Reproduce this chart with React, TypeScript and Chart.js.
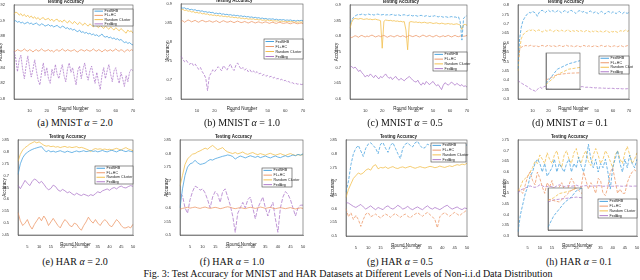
import React, { useEffect, useRef } from "react";
import { Chart, registerables } from "chart.js";
Chart.register(...registerables);

const FONT = "'Liberation Sans', Arial, sans-serif";
const BLUE = "#4aa3df";
const ORANGE = "#ee9a6c";
const YELLOW = "#f3c04f";
const PURPLE = "#b07ccb";
const NAMES = ["FedSHB", "FL+HC", "Random Cluster", "FedAvg"];

const MNIST_ROUNDS = Array.from({ length: 70 }, (_, i) => i + 1);
const HAR_ROUNDS = Array.from({ length: 50 }, (_, i) => i + 1);
const MNIST_X_TICKS = [10, 20, 30, 40, 50, 60, 70];
const HAR_X_TICKS = [5, 10, 15, 20, 25, 30, 35, 40, 45, 50];

// (a) MNIST alpha = 2.0
const A_Y_TICKS = [0.8, 0.82, 0.84, 0.86, 0.88, 0.9, 0.92];
const A_BLUE = [0.899,0.900,0.898,0.899,0.897,0.898,0.896,0.897,0.898,0.896,0.897,0.895,0.896,0.897,0.895,0.894,0.896,0.895,0.893,0.894,0.895,0.893,0.894,0.892,0.893,0.894,0.892,0.891,0.893,0.892,0.890,0.891,0.889,0.890,0.888,0.889,0.887,0.886,0.888,0.885,0.886,0.884,0.885,0.883,0.884,0.882,0.883,0.881,0.882,0.880,0.881,0.883,0.880,0.879,0.880,0.878,0.879,0.877,0.878,0.876,0.877,0.875,0.876,0.874,0.872,0.873,0.871,0.872,0.870,0.869];
const A_ORANGE = [0.862,0.861,0.863,0.862,0.861,0.862,0.864,0.862,0.861,0.863,0.862,0.860,0.862,0.863,0.861,0.862,0.864,0.862,0.861,0.862,0.863,0.861,0.862,0.860,0.862,0.863,0.861,0.862,0.864,0.862,0.861,0.863,0.862,0.861,0.862,0.863,0.861,0.860,0.862,0.863,0.862,0.861,0.863,0.862,0.861,0.862,0.864,0.862,0.861,0.863,0.862,0.860,0.862,0.863,0.861,0.862,0.863,0.861,0.862,0.864,0.862,0.861,0.863,0.862,0.860,0.862,0.863,0.861,0.863,0.862];
const A_YELLOW = [0.908,0.911,0.910,0.907,0.909,0.906,0.908,0.905,0.907,0.904,0.906,0.903,0.905,0.902,0.904,0.901,0.903,0.904,0.901,0.902,0.903,0.900,0.902,0.899,0.901,0.902,0.899,0.900,0.898,0.901,0.899,0.897,0.900,0.898,0.896,0.899,0.897,0.895,0.898,0.896,0.894,0.897,0.895,0.893,0.896,0.894,0.892,0.895,0.893,0.891,0.894,0.892,0.890,0.893,0.891,0.889,0.892,0.890,0.888,0.891,0.889,0.887,0.890,0.888,0.886,0.884,0.888,0.886,0.887,0.884];
const A_PURPLE = [0.861,0.852,0.835,0.850,0.856,0.838,0.826,0.842,0.855,0.840,0.828,0.838,0.850,0.836,0.824,0.818,0.834,0.846,0.830,0.840,0.826,0.820,0.838,0.830,0.844,0.832,0.826,0.836,0.844,0.830,0.822,0.838,0.846,0.834,0.840,0.828,0.818,0.836,0.842,0.826,0.838,0.846,0.832,0.824,0.836,0.842,0.830,0.820,0.834,0.822,0.812,0.830,0.840,0.826,0.836,0.844,0.832,0.822,0.836,0.840,0.828,0.820,0.834,0.826,0.816,0.830,0.822,0.834,0.838,0.836];

// (b) MNIST alpha = 1.0
const B_Y_TICKS = [0.65, 0.7, 0.75, 0.8, 0.85, 0.9];
const B_BLUE = [0.891,0.889,0.890,0.887,0.888,0.885,0.886,0.884,0.885,0.882,0.883,0.881,0.882,0.879,0.880,0.878,0.879,0.877,0.878,0.875,0.876,0.874,0.876,0.873,0.874,0.872,0.873,0.871,0.872,0.870,0.871,0.869,0.870,0.868,0.869,0.867,0.868,0.866,0.867,0.865,0.866,0.864,0.865,0.863,0.864,0.862,0.863,0.861,0.862,0.860,0.861,0.860,0.861,0.859,0.860,0.858,0.859,0.858,0.859,0.857,0.858,0.857,0.858,0.856,0.857,0.855,0.857,0.856,0.857,0.856];
const B_ORANGE = [0.854,0.856,0.852,0.855,0.858,0.856,0.853,0.855,0.857,0.854,0.852,0.855,0.857,0.855,0.853,0.854,0.856,0.854,0.852,0.854,0.856,0.853,0.851,0.854,0.856,0.854,0.852,0.853,0.855,0.853,0.851,0.853,0.855,0.853,0.851,0.852,0.854,0.852,0.850,0.852,0.854,0.852,0.850,0.852,0.853,0.851,0.850,0.852,0.853,0.851,0.849,0.851,0.852,0.850,0.849,0.851,0.852,0.850,0.849,0.850,0.851,0.849,0.848,0.850,0.851,0.849,0.848,0.849,0.850,0.848];
const B_YELLOW = [0.884,0.886,0.883,0.884,0.881,0.882,0.879,0.880,0.877,0.878,0.876,0.877,0.874,0.875,0.873,0.874,0.871,0.872,0.870,0.871,0.869,0.870,0.868,0.869,0.867,0.868,0.866,0.867,0.865,0.866,0.864,0.865,0.863,0.864,0.862,0.863,0.861,0.862,0.860,0.861,0.860,0.861,0.859,0.860,0.858,0.859,0.857,0.858,0.857,0.858,0.856,0.857,0.855,0.856,0.855,0.856,0.854,0.855,0.854,0.855,0.853,0.854,0.853,0.854,0.852,0.853,0.852,0.853,0.852,0.853];
const B_PURPLE = [0.763,0.755,0.748,0.752,0.745,0.741,0.746,0.738,0.742,0.735,0.728,0.733,0.722,0.715,0.705,0.672,0.710,0.718,0.727,0.722,0.728,0.735,0.730,0.724,0.738,0.732,0.726,0.735,0.742,0.730,0.725,0.738,0.745,0.736,0.728,0.733,0.726,0.730,0.722,0.727,0.720,0.724,0.718,0.722,0.716,0.718,0.712,0.715,0.710,0.712,0.708,0.710,0.705,0.707,0.703,0.704,0.700,0.702,0.698,0.699,0.695,0.696,0.692,0.693,0.690,0.691,0.689,0.690,0.688,0.689];

// (c) MNIST alpha = 0.5
const C_Y_TICKS = [0.6, 0.65, 0.7, 0.75, 0.8, 0.85, 0.9];
const C_BLUE = [0.842,0.852,0.860,0.865,0.868,0.870,0.869,0.871,0.870,0.868,0.870,0.871,0.869,0.870,0.868,0.869,0.871,0.870,0.868,0.869,0.870,0.868,0.869,0.867,0.869,0.870,0.868,0.867,0.869,0.868,0.866,0.868,0.869,0.867,0.866,0.868,0.867,0.865,0.867,0.866,0.864,0.866,0.867,0.865,0.864,0.866,0.865,0.863,0.865,0.864,0.866,0.864,0.862,0.864,0.863,0.861,0.863,0.862,0.860,0.862,0.863,0.861,0.862,0.860,0.862,0.846,0.788,0.858,0.863,0.866];
const C_ORANGE = [0.800,0.796,0.799,0.802,0.800,0.797,0.801,0.803,0.800,0.798,0.801,0.799,0.802,0.804,0.801,0.798,0.800,0.802,0.799,0.801,0.803,0.800,0.797,0.800,0.802,0.800,0.798,0.801,0.803,0.800,0.799,0.802,0.800,0.797,0.800,0.803,0.801,0.799,0.801,0.803,0.800,0.798,0.801,0.804,0.802,0.799,0.801,0.803,0.800,0.798,0.801,0.803,0.800,0.798,0.800,0.802,0.799,0.801,0.803,0.800,0.798,0.801,0.803,0.800,0.799,0.801,0.802,0.800,0.801,0.803];
const C_YELLOW = [0.826,0.845,0.855,0.857,0.856,0.855,0.857,0.856,0.854,0.855,0.856,0.854,0.855,0.853,0.854,0.855,0.853,0.852,0.850,0.762,0.848,0.852,0.851,0.850,0.851,0.849,0.850,0.848,0.849,0.847,0.848,0.846,0.847,0.820,0.757,0.845,0.847,0.846,0.845,0.846,0.844,0.845,0.843,0.844,0.845,0.843,0.842,0.844,0.843,0.841,0.842,0.843,0.841,0.840,0.842,0.841,0.839,0.840,0.841,0.839,0.840,0.838,0.839,0.840,0.838,0.836,0.822,0.837,0.838,0.835];
const C_PURPLE = [0.700,0.704,0.698,0.702,0.696,0.688,0.692,0.684,0.678,0.670,0.676,0.672,0.680,0.674,0.668,0.676,0.670,0.664,0.672,0.668,0.674,0.680,0.672,0.666,0.670,0.662,0.668,0.672,0.664,0.660,0.666,0.662,0.658,0.664,0.668,0.672,0.666,0.660,0.656,0.654,0.660,0.650,0.644,0.652,0.646,0.656,0.650,0.646,0.652,0.656,0.648,0.642,0.646,0.638,0.630,0.644,0.652,0.648,0.644,0.650,0.654,0.648,0.644,0.650,0.646,0.642,0.646,0.640,0.642,0.638];

// (d) MNIST alpha = 0.1
const D_Y_TICKS = [0.3, 0.35, 0.4, 0.45, 0.5, 0.55, 0.6, 0.65, 0.7, 0.75, 0.8];
const D_BLUE = [0.460,0.620,0.680,0.715,0.730,0.745,0.752,0.760,0.758,0.765,0.762,0.755,0.740,0.758,0.768,0.772,0.766,0.760,0.768,0.772,0.764,0.770,0.768,0.760,0.766,0.771,0.765,0.758,0.764,0.770,0.766,0.760,0.768,0.772,0.766,0.762,0.755,0.764,0.770,0.768,0.762,0.766,0.760,0.756,0.764,0.768,0.762,0.758,0.764,0.760,0.754,0.762,0.766,0.758,0.752,0.760,0.766,0.762,0.756,0.764,0.760,0.754,0.762,0.766,0.758,0.754,0.762,0.758,0.756,0.760];
const D_ORANGE = [0.500,0.560,0.575,0.580,0.582,0.585,0.580,0.583,0.586,0.582,0.580,0.584,0.581,0.578,0.582,0.585,0.582,0.579,0.583,0.586,0.582,0.580,0.584,0.581,0.578,0.582,0.585,0.581,0.579,0.583,0.586,0.582,0.580,0.583,0.580,0.577,0.581,0.584,0.580,0.578,0.582,0.585,0.581,0.579,0.583,0.580,0.578,0.582,0.584,0.580,0.578,0.582,0.585,0.581,0.579,0.582,0.584,0.580,0.577,0.581,0.583,0.580,0.578,0.582,0.584,0.580,0.577,0.581,0.584,0.582];
const D_YELLOW = [0.450,0.560,0.620,0.640,0.650,0.658,0.662,0.668,0.664,0.670,0.666,0.660,0.664,0.668,0.662,0.656,0.662,0.666,0.660,0.664,0.668,0.662,0.658,0.664,0.668,0.662,0.660,0.666,0.662,0.658,0.664,0.668,0.662,0.658,0.664,0.660,0.666,0.662,0.658,0.664,0.660,0.656,0.662,0.666,0.660,0.656,0.662,0.658,0.664,0.660,0.656,0.662,0.658,0.654,0.660,0.664,0.658,0.654,0.660,0.656,0.662,0.658,0.654,0.660,0.664,0.658,0.662,0.668,0.660,0.664];
const D_PURPLE = [0.400,0.390,0.385,0.380,0.375,0.370,0.365,0.358,0.352,0.348,0.345,0.340,0.350,0.360,0.362,0.355,0.365,0.368,0.362,0.366,0.370,0.368,0.372,0.370,0.366,0.372,0.374,0.370,0.368,0.372,0.370,0.367,0.370,0.372,0.369,0.366,0.368,0.370,0.367,0.365,0.366,0.364,0.362,0.363,0.361,0.362,0.360,0.361,0.359,0.360,0.358,0.359,0.357,0.358,0.357,0.358,0.356,0.357,0.356,0.357,0.355,0.356,0.355,0.356,0.355,0.354,0.355,0.354,0.355,0.354];
const D_INSET_X = [1, 2, 3, 4];
const D_INSET_Y_TICKS = [0.4, 0.5, 0.6, 0.7, 0.8];

// (e) HAR alpha = 2.0
const E_Y_TICKS = [0.45, 0.5, 0.55, 0.6, 0.65, 0.7, 0.75, 0.8, 0.85];
const E_BLUE = [0.705,0.750,0.775,0.790,0.798,0.805,0.810,0.814,0.817,0.820,0.822,0.810,0.800,0.806,0.800,0.803,0.799,0.802,0.805,0.801,0.798,0.803,0.800,0.797,0.801,0.804,0.800,0.802,0.805,0.801,0.803,0.806,0.802,0.804,0.800,0.803,0.806,0.802,0.800,0.804,0.807,0.803,0.800,0.805,0.808,0.804,0.801,0.805,0.802,0.800];
const E_ORANGE = [0.545,0.510,0.490,0.500,0.515,0.490,0.475,0.495,0.510,0.525,0.510,0.530,0.515,0.490,0.505,0.520,0.505,0.490,0.480,0.500,0.515,0.505,0.490,0.485,0.500,0.495,0.480,0.470,0.490,0.505,0.525,0.510,0.500,0.515,0.500,0.490,0.505,0.515,0.505,0.490,0.485,0.500,0.515,0.505,0.490,0.480,0.480,0.485,0.480,0.495];
const E_YELLOW = [0.760,0.790,0.808,0.818,0.825,0.833,0.838,0.843,0.838,0.842,0.835,0.828,0.824,0.826,0.822,0.824,0.820,0.822,0.818,0.821,0.823,0.819,0.821,0.818,0.820,0.822,0.817,0.819,0.816,0.812,0.808,0.801,0.810,0.814,0.811,0.813,0.810,0.812,0.809,0.811,0.808,0.812,0.815,0.811,0.808,0.814,0.818,0.812,0.809,0.805];
const E_PURPLE = [0.660,0.645,0.662,0.680,0.668,0.658,0.675,0.686,0.680,0.668,0.676,0.664,0.650,0.640,0.646,0.660,0.654,0.640,0.634,0.642,0.636,0.628,0.632,0.624,0.618,0.626,0.620,0.616,0.622,0.618,0.614,0.620,0.616,0.624,0.632,0.628,0.636,0.640,0.644,0.638,0.646,0.650,0.644,0.652,0.656,0.650,0.648,0.654,0.658,0.655];

// (f) HAR alpha = 1.0
const F_Y_TICKS = [0.5, 0.55, 0.6, 0.65, 0.7, 0.75, 0.8, 0.85];
const F_BLUE = [0.600,0.670,0.720,0.750,0.762,0.766,0.775,0.766,0.760,0.762,0.765,0.772,0.778,0.776,0.781,0.784,0.787,0.790,0.792,0.795,0.793,0.789,0.780,0.786,0.791,0.788,0.784,0.788,0.792,0.789,0.786,0.790,0.785,0.788,0.791,0.787,0.784,0.788,0.791,0.787,0.785,0.789,0.792,0.788,0.791,0.795,0.792,0.797,0.794,0.799];
const F_ORANGE = [0.595,0.598,0.600,0.602,0.599,0.601,0.603,0.600,0.598,0.601,0.603,0.600,0.598,0.600,0.602,0.600,0.597,0.599,0.602,0.604,0.602,0.599,0.597,0.599,0.601,0.599,0.597,0.600,0.602,0.600,0.598,0.600,0.603,0.601,0.598,0.600,0.602,0.599,0.597,0.599,0.601,0.599,0.597,0.599,0.601,0.598,0.596,0.598,0.600,0.598];
const F_YELLOW = [0.680,0.720,0.760,0.780,0.790,0.798,0.800,0.806,0.810,0.815,0.820,0.816,0.824,0.830,0.822,0.814,0.818,0.822,0.812,0.806,0.803,0.800,0.804,0.799,0.802,0.806,0.800,0.797,0.801,0.804,0.799,0.796,0.800,0.797,0.794,0.798,0.801,0.797,0.794,0.797,0.800,0.796,0.793,0.797,0.800,0.796,0.793,0.796,0.794,0.796];
const F_PURPLE = [0.652,0.645,0.600,0.580,0.630,0.660,0.680,0.675,0.665,0.670,0.655,0.630,0.600,0.640,0.660,0.650,0.620,0.660,0.670,0.640,0.610,0.570,0.510,0.580,0.600,0.620,0.600,0.630,0.640,0.600,0.560,0.600,0.620,0.640,0.600,0.570,0.600,0.620,0.560,0.510,0.600,0.640,0.660,0.650,0.630,0.600,0.570,0.600,0.610,0.610];

// (g) HAR alpha = 0.5
const G_Y_TICKS = [0.5, 0.55, 0.6, 0.65, 0.7, 0.75, 0.8, 0.85];
const G_BLUE = [0.660,0.700,0.760,0.800,0.820,0.830,0.810,0.790,0.820,0.835,0.840,0.830,0.820,0.800,0.835,0.840,0.820,0.805,0.830,0.840,0.820,0.800,0.782,0.820,0.835,0.840,0.830,0.825,0.840,0.845,0.830,0.820,0.822,0.835,0.830,0.825,0.832,0.828,0.822,0.830,0.834,0.828,0.822,0.830,0.834,0.828,0.832,0.836,0.830,0.832];
const G_ORANGE = [0.600,0.570,0.585,0.560,0.575,0.560,0.535,0.560,0.580,0.585,0.570,0.575,0.580,0.572,0.566,0.574,0.580,0.575,0.568,0.576,0.582,0.574,0.568,0.575,0.580,0.572,0.566,0.574,0.580,0.585,0.578,0.572,0.580,0.586,0.578,0.570,0.560,0.530,0.570,0.580,0.585,0.578,0.572,0.580,0.586,0.580,0.574,0.582,0.588,0.595];
const G_YELLOW = [0.640,0.670,0.690,0.710,0.720,0.730,0.725,0.730,0.740,0.745,0.740,0.755,0.760,0.745,0.750,0.748,0.752,0.746,0.750,0.753,0.748,0.746,0.750,0.752,0.748,0.751,0.754,0.750,0.747,0.750,0.753,0.750,0.748,0.751,0.754,0.752,0.749,0.751,0.755,0.752,0.750,0.753,0.756,0.753,0.757,0.760,0.758,0.762,0.760,0.765];
const G_PURPLE = [0.622,0.620,0.614,0.608,0.604,0.610,0.615,0.606,0.598,0.604,0.610,0.602,0.596,0.604,0.600,0.596,0.606,0.610,0.602,0.598,0.604,0.612,0.606,0.598,0.602,0.608,0.600,0.596,0.602,0.606,0.600,0.596,0.604,0.610,0.602,0.598,0.604,0.600,0.596,0.602,0.608,0.612,0.604,0.598,0.602,0.606,0.600,0.596,0.602,0.600];

// (h) HAR alpha = 0.1
const H_Y_TICKS = [0.3, 0.35, 0.4, 0.45, 0.5, 0.55, 0.6, 0.65, 0.7, 0.75];
const H_BLUE = [0.320,0.400,0.450,0.500,0.530,0.580,0.600,0.640,0.660,0.640,0.600,0.640,0.580,0.600,0.620,0.660,0.600,0.640,0.620,0.600,0.640,0.660,0.600,0.640,0.620,0.670,0.630,0.600,0.650,0.730,0.660,0.620,0.660,0.600,0.640,0.620,0.660,0.600,0.520,0.620,0.660,0.700,0.640,0.600,0.660,0.620,0.680,0.640,0.620,0.660];
const H_ORANGE = [0.520,0.510,0.500,0.540,0.580,0.600,0.560,0.540,0.600,0.570,0.530,0.500,0.550,0.530,0.560,0.510,0.500,0.530,0.550,0.520,0.500,0.540,0.570,0.550,0.500,0.480,0.530,0.600,0.560,0.520,0.550,0.530,0.500,0.570,0.560,0.500,0.490,0.530,0.600,0.620,0.560,0.500,0.520,0.500,0.500,0.550,0.580,0.600,0.610,0.600];
const H_YELLOW = [0.510,0.530,0.560,0.570,0.580,0.600,0.620,0.650,0.640,0.680,0.660,0.640,0.690,0.660,0.640,0.680,0.700,0.650,0.620,0.680,0.700,0.660,0.640,0.690,0.710,0.660,0.640,0.680,0.700,0.650,0.630,0.680,0.710,0.680,0.640,0.660,0.700,0.680,0.650,0.620,0.680,0.700,0.660,0.640,0.690,0.720,0.680,0.640,0.660,0.690];
const H_PURPLE = [0.500,0.515,0.520,0.525,0.530,0.535,0.530,0.528,0.532,0.540,0.535,0.530,0.532,0.534,0.530,0.528,0.535,0.540,0.536,0.532,0.534,0.536,0.533,0.535,0.538,0.534,0.532,0.535,0.536,0.534,0.533,0.535,0.534,0.536,0.535,0.533,0.534,0.535,0.534,0.533,0.534,0.535,0.534,0.533,0.534,0.535,0.534,0.533,0.534,0.534];
const H_INSET_X = [1, 2, 3, 4, 5, 6, 7];
const H_INSET_X_TICKS = [2, 4, 6];
const H_INSET_Y_TICKS = [0.3, 0.4, 0.5, 0.6];

type Series = { label: string; data: number[]; color: string; dash?: number[] };

const boxPlugin = {
  id: "box",
  beforeDraw(chart: any, _a: any, opts: any) {
    if (!opts || !opts.fill) return;
    const { ctx, chartArea: a } = chart;
    ctx.save();
    ctx.fillStyle = "#fff";
    ctx.fillRect(a.left, a.top, a.right - a.left, a.bottom - a.top);
    ctx.restore();
  },
  afterDatasetsDraw(chart: any) {
    const { ctx, chartArea: a } = chart;
    ctx.save();
    ctx.strokeStyle = "#555";
    ctx.lineWidth = 0.6;
    ctx.strokeRect(a.left, a.top, a.right - a.left, a.bottom - a.top);
    ctx.restore();
  },
};

const miniLegend = {
  id: "miniLegend",
  afterDraw(chart: any, _a: any, opts: any) {
    if (!opts || !opts.rect) return;
    const [x, y, w, h] = opts.rect;
    const ctx = chart.ctx;
    ctx.save();
    ctx.fillStyle = "#fff";
    ctx.fillRect(x, y, w, h);
    ctx.strokeStyle = "#444";
    ctx.lineWidth = 0.6;
    ctx.strokeRect(x, y, w, h);
    const ds = chart.data.datasets;
    const rh = h / ds.length;
    ctx.font = `3.6px ${FONT}`;
    ctx.textBaseline = "middle";
    ds.forEach((d: any, i: number) => {
      const cy = y + rh * (i + 0.5);
      ctx.strokeStyle = d.borderColor;
      ctx.lineWidth = 1;
      ctx.setLineDash([]);
      ctx.beginPath();
      ctx.moveTo(x + 1.5, cy);
      ctx.lineTo(x + 10, cy);
      ctx.stroke();
      ctx.fillStyle = "#222";
      ctx.fillText(d.label, x + 11.5, cy);
    });
    ctx.restore();
  },
};

type PanelProps = {
  plot: [number, number, number, number];
  labels: number[];
  xTicks: number[];
  yTicks: number[];
  series: Series[];
  legend?: [number, number, number, number];
  small?: boolean;
};

function Panel({ plot, labels, xTicks, yTicks, series, legend, small }: PanelProps) {
  const ref = useRef<HTMLCanvasElement>(null);
  const padL = small ? 9 : 16;
  const padT = small ? 2 : 6;
  const padR = small ? 2 : 4;
  const padB = small ? 5 : 14;
  const [L, T, R, B] = plot;
  const left = L - padL;
  const top = T - padT;
  const width = R - L + padL + padR;
  const height = B - T + padT + padB;
  useEffect(() => {
    const tickFont = { family: FONT, size: small ? 3 : 4 };
    const chart = new Chart(ref.current as HTMLCanvasElement, {
      type: "line",
      data: {
        labels,
        datasets: series.map((s) => ({
          label: s.label,
          data: s.data,
          borderColor: s.color,
          backgroundColor: s.color,
          borderWidth: 0.8,
          borderDash: s.dash || [],
          pointRadius: 0,
          tension: 0,
          fill: false,
        })),
      },
      options: {
        responsive: false,
        animation: false,
        events: [],
        layout: { autoPadding: false, padding: { left: 0, right: padR, top: small ? padT : 0, bottom: 0 } },
        plugins: {
          legend: { display: false },
          tooltip: { enabled: false },
          title: small
            ? { display: false }
            : {
                display: true,
                text: "Testing Accuracy",
                font: { family: FONT, size: 4.5, weight: "bold", lineHeight: 1.2 },
                color: "#222",
                padding: { top: 0, bottom: 0.6 },
              },
          box: { fill: !!small },
          miniLegend: legend ? { rect: [legend[0] - left, legend[1] - top, legend[2] - legend[0], legend[3] - legend[1]] } : {},
        } as any,
        scales: {
          x: {
            type: "category",
            offset: false,
            grid: { display: false },
            border: { display: true, color: "#555", width: 0.6 },
            ticks: {
              autoSkip: false,
              maxRotation: 0,
              minRotation: 0,
              padding: 1,
              font: tickFont,
              color: "#333",
              callback: (_v: any, i: number) => (xTicks.includes(labels[i]) ? String(labels[i]) : ""),
            },
            title: small
              ? { display: false }
              : { display: true, text: "Round Number", font: { family: FONT, size: 4.5 }, color: "#222", padding: { top: 0, bottom: 2 } },
            afterFit: (s: any) => {
              s.height = padB;
              s.paddingLeft = 0;
              s.paddingRight = 0;
            },
          },
          y: {
            type: "linear",
            min: yTicks[0],
            max: yTicks[yTicks.length - 1],
            grid: { display: false },
            border: { display: true, color: "#555", width: 0.6 },
            ticks: { padding: 1, font: tickFont, color: "#333", callback: (v: any) => String(v) },
            afterBuildTicks: (s: any) => {
              s.ticks = yTicks.map((v) => ({ value: v }));
            },
            title: small
              ? { display: false }
              : { display: true, text: "Accuracy", font: { family: FONT, size: 4.5 }, color: "#222", padding: { top: 0, bottom: 0 } },
            afterFit: (s: any) => {
              s.width = padL;
              s.paddingTop = 0;
              s.paddingBottom = 0;
            },
          },
        },
      } as any,
      plugins: [boxPlugin, miniLegend] as any,
    });
    return () => chart.destroy();
  }, []);
  return (
    <canvas
      ref={ref}
      width={width}
      height={height}
      style={{ position: "absolute", left, top, width, height }}
    />
  );
}

const mk = (b: number[], o: number[], y: number[], p: number[], dash: (number[] | undefined)[]): Series[] => [
  { label: NAMES[0], data: b, color: BLUE, dash: dash[0] },
  { label: NAMES[1], data: o, color: ORANGE, dash: dash[1] },
  { label: NAMES[2], data: y, color: YELLOW, dash: dash[2] },
  { label: NAMES[3], data: p, color: PURPLE, dash: dash[3] },
];

const DS = [3, 1.5];

function Caption({ cx, cy, children, w = 160 }: { cx: number; cy: number; children: any; w?: number }) {
  return (
    <div
      style={{
        position: "absolute",
        left: cx - w / 2,
        width: w,
        top: cy - 6,
        height: 12,
        lineHeight: "12px",
        textAlign: "center",
        fontFamily: "'Liberation Serif', 'Times New Roman', serif",
        fontSize: 10,
        color: "#111",
        whiteSpace: "nowrap",
      }}
    >
      {children}
    </div>
  );
}

export default function App() {
  const a = <i>α</i>;
  return (
    <div style={{ position: "absolute", left: 0, top: 0, width: 640, height: 280, background: "#fff", overflow: "hidden" }}>
      <Panel plot={[14, 5, 133, 99]} labels={MNIST_ROUNDS} xTicks={MNIST_X_TICKS} yTicks={A_Y_TICKS}
        series={mk(A_BLUE, A_ORANGE, A_YELLOW, A_PURPLE, [undefined, undefined, undefined, [2, 1]])} legend={[93, 9, 133, 26]} />
      <Panel plot={[181, 4, 303, 99]} labels={MNIST_ROUNDS} xTicks={MNIST_X_TICKS} yTicks={B_Y_TICKS}
        series={mk(B_BLUE, B_ORANGE, B_YELLOW, B_PURPLE, [undefined, undefined, undefined, DS])} legend={[264, 39, 303, 59]} />
      <Panel plot={[350, 5, 467, 99]} labels={MNIST_ROUNDS} xTicks={MNIST_X_TICKS} yTicks={C_Y_TICKS}
        series={mk(C_BLUE, C_ORANGE, C_YELLOW, C_PURPLE, [DS, undefined, undefined, undefined])} legend={[433, 52, 467, 71]} />
      <Panel plot={[518, 5, 629, 99]} labels={MNIST_ROUNDS} xTicks={MNIST_X_TICKS} yTicks={D_Y_TICKS}
        series={mk(D_BLUE, D_ORANGE, D_YELLOW, D_PURPLE, [DS, DS, DS, DS])} legend={[599, 56, 629, 74]} />
      <Panel plot={[546, 53, 580, 89]} labels={D_INSET_X} xTicks={D_INSET_X} yTicks={D_INSET_Y_TICKS} small
        series={mk(D_BLUE.slice(0, 4), D_ORANGE.slice(0, 4), D_YELLOW.slice(0, 4), D_PURPLE.slice(0, 4), [DS, DS, DS, DS])} />

      <Panel plot={[18, 140, 133, 235]} labels={HAR_ROUNDS} xTicks={HAR_X_TICKS} yTicks={E_Y_TICKS}
        series={mk(E_BLUE, E_ORANGE, E_YELLOW, E_PURPLE, [undefined, undefined, undefined, undefined])} legend={[95, 166, 133, 184]} />
      <Panel plot={[180, 140, 303, 235]} labels={HAR_ROUNDS} xTicks={HAR_X_TICKS} yTicks={F_Y_TICKS}
        series={mk(F_BLUE, F_ORANGE, F_YELLOW, F_PURPLE, [undefined, undefined, undefined, [4, 1.5]])} legend={[262, 168, 292, 187]} />
      <Panel plot={[346, 140, 467, 236]} labels={HAR_ROUNDS} xTicks={HAR_X_TICKS} yTicks={G_Y_TICKS}
        series={mk(G_BLUE, G_ORANGE, G_YELLOW, G_PURPLE, [DS, DS, undefined, undefined])} legend={[431, 143, 466, 162]} />
      <Panel plot={[518, 140, 637, 236]} labels={HAR_ROUNDS} xTicks={HAR_X_TICKS} yTicks={H_Y_TICKS}
        series={mk(H_BLUE, H_ORANGE, H_YELLOW, H_PURPLE, [DS, DS, DS, DS])} legend={[598, 199, 637, 218]} />
      <Panel plot={[548, 188, 582, 230]} labels={H_INSET_X} xTicks={H_INSET_X_TICKS} yTicks={H_INSET_Y_TICKS} small
        series={mk(H_BLUE.slice(0, 7), H_ORANGE.slice(0, 7), H_YELLOW.slice(0, 7), H_PURPLE.slice(0, 7), [DS, DS, DS, DS])} />

      <Caption cx={75} cy={123}>(a) MNIST {a} = 2.0</Caption>
      <Caption cx={242} cy={123}>(b) MNIST {a} = 1.0</Caption>
      <Caption cx={405} cy={123}>(c) MNIST {a} = 0.5</Caption>
      <Caption cx={570} cy={123}>(d) MNIST {a} = 0.1</Caption>
      <Caption cx={75} cy={262}>(e) HAR {a} = 2.0</Caption>
      <Caption cx={232} cy={262}>(f) HAR {a} = 1.0</Caption>
      <Caption cx={400} cy={262}>(g) HAR {a} = 0.5</Caption>
      <Caption cx={579} cy={262}>(h) HAR {a} = 0.1</Caption>
      <Caption cx={348} cy={274} w={520}>Fig. 3: Test Accuracy for MNIST and HAR Datasets at Different Levels of Non-i.i.d Data Distribution</Caption>
    </div>
  );
}
